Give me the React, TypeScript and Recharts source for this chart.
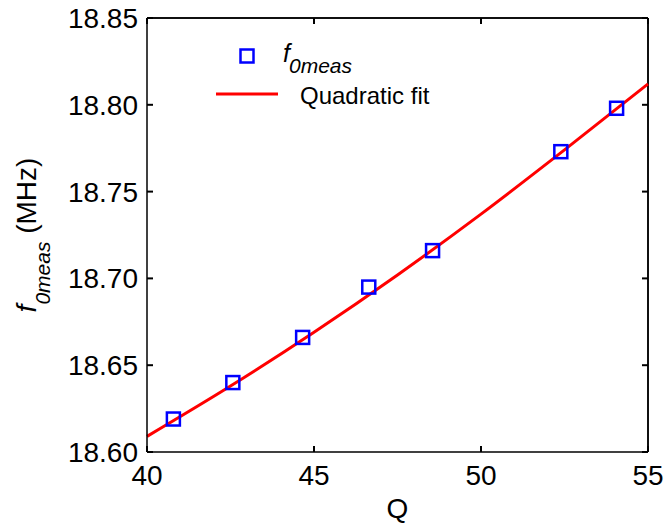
import React from "react";
import {
  ComposedChart,
  Scatter,
  Line,
  XAxis,
  YAxis,
  CartesianGrid,
  ReferenceLine,
} from "recharts";

// measured resonance frequency vs Q
const measQ = [40.79, 42.57, 44.66, 46.64, 48.55, 52.39, 54.06];
const measF = [18.619, 18.64, 18.666, 18.695, 18.716, 18.773, 18.798];

// quadratic fit
const fitQ = [40, 42.5, 45, 47.5, 50, 52.5, 55];
const fitF = [18.609, 18.638, 18.669, 18.702, 18.737, 18.774, 18.812];

const xTicks = [40, 45, 50, 55];
const yTicks = [18.6, 18.65, 18.7, 18.75, 18.8, 18.85];
const xDomain = [40, 55];
const yDomain = [18.6, 18.85];

const measData = measQ.map((q, i) => ({ q, f: measF[i] }));
const fitData = fitQ.map((q, i) => ({ q, f: fitF[i] }));

const FONT = '"Liberation Sans", Arial, sans-serif';
const BLUE = "#0000ff";
const RED = "#ff0000";
const TICK_LEN = 6;

// chart box
const W = 665;
const H = 523;
const MARGIN = { top: 18, right: 17, bottom: 0, left: 0 };
const PLOT_TOP = MARGIN.top;
const PLOT_RIGHT = W - MARGIN.right;

const SquareMarker = (props: any) => {
  const { cx, cy } = props;
  if (cx == null || cy == null) return null;
  return (
    <rect
      x={cx - 6.5}
      y={cy - 6.5}
      width={13}
      height={13}
      fill="none"
      stroke={BLUE}
      strokeWidth={2.5}
    />
  );
};

// ticks point into the plot on all four sides, matlab style
const BottomTick = (props: any) => {
  const { x, y, payload } = props;
  return (
    <g>
      <line x1={x} x2={x} y1={y} y2={y - TICK_LEN} stroke="#000" strokeWidth={2} />
      <line x1={x} x2={x} y1={PLOT_TOP} y2={PLOT_TOP + TICK_LEN} stroke="#000" strokeWidth={2} />
      <text
        x={x}
        y={y + 33}
        textAnchor="middle"
        fontFamily={FONT}
        fontSize={28}
        fill="#000"
      >
        {payload.value}
      </text>
    </g>
  );
};

const LeftTick = (props: any) => {
  const { x, y, payload } = props;
  return (
    <g>
      <line x1={x} x2={x + TICK_LEN} y1={y} y2={y} stroke="#000" strokeWidth={2} />
      <line x1={PLOT_RIGHT} x2={PLOT_RIGHT - TICK_LEN} y1={y} y2={y} stroke="#000" strokeWidth={2} />
      <text
        x={x - 9}
        y={y + 10}
        textAnchor="end"
        fontFamily={FONT}
        fontSize={28}
        fill="#000"
      >
        {Number(payload.value).toFixed(2)}
      </text>
    </g>
  );
};

const YLabel = (props: any) => {
  const vb = props.viewBox || {};
  const cx = (vb.x ?? 0) + 36;
  const cy = (vb.y ?? 0) + (vb.height ?? 0) / 2;
  return (
    <text
      x={cx}
      y={cy}
      transform={`rotate(-90, ${cx}, ${cy})`}
      textAnchor="middle"
      fontFamily={FONT}
      fontSize={28}
      fill="#000"
    >
      <tspan fontStyle="italic">f</tspan>
      <tspan fontStyle="italic" fontSize={21} dy={14}>
        0meas
      </tspan>
      <tspan dy={-14}> (MHz)</tspan>
    </text>
  );
};

// legend box drawn over the plot
function LegendBox() {
  return (
    <svg
      width={260}
      height={80}
      style={{ position: "absolute", left: 205, top: 38, overflow: "visible" }}
    >
      <rect
        x={35.5}
        y={11.5}
        width={13}
        height={13}
        fill="none"
        stroke={BLUE}
        strokeWidth={2.5}
      />
      <text
        x={78}
        y={24}
        fontFamily={FONT}
        fontSize={25}
        fontStyle="italic"
        fill="#000"
      >
        f
        <tspan fontSize={21} dx={-1} dy={11}>
          0meas
        </tspan>
      </text>
      <line x1={11} x2={73} y1={56} y2={56} stroke={RED} strokeWidth={3} />
      <text x={95} y={66} fontFamily={FONT} fontSize={24} fill="#000">
        Quadratic fit
      </text>
    </svg>
  );
}

const axisLine = { stroke: "#000", strokeWidth: 1.5 };

export default function App() {
  return (
    <div style={{ position: "absolute", left: 0, top: 0, width: W, height: H, background: "#fff" }}>
      <ComposedChart width={W} height={H} margin={MARGIN}>
        {/* only the top and right edges, to close the box */}
        <CartesianGrid
          stroke="#000"
          strokeWidth={1.5}
          horizontalCoordinatesGenerator={(p: any) => [p.offset.top]}
          verticalCoordinatesGenerator={(p: any) => [p.offset.left + p.offset.width]}
        />
        <XAxis
          dataKey="q"
          type="number"
          domain={xDomain}
          ticks={xTicks}
          height={71}
          stroke="#000"
          tick={<BottomTick />}
          tickSize={0}
          tickMargin={0}
          axisLine={axisLine}
          label={{
            value: "Q",
            position: "insideBottom",
            offset: 5,
            fontSize: 28,
            fill: "#000",
            fontFamily: FONT,
          }}
        />
        <YAxis
          dataKey="f"
          type="number"
          domain={yDomain}
          ticks={yTicks}
          width={147}
          stroke="#000"
          tick={<LeftTick />}
          tickSize={0}
          tickMargin={0}
          axisLine={axisLine}
          label={<YLabel />}
        />
        <ReferenceLine y={yDomain[1]} stroke="#000" strokeWidth={1.5} />
        <ReferenceLine x={xDomain[1]} stroke="#000" strokeWidth={1.5} />
        <Scatter
          name="f0meas"
          data={measData}
          dataKey="f"
          fill={BLUE}
          shape={SquareMarker}
          isAnimationActive={false}
        />
        <Line
          name="Quadratic fit"
          data={fitData}
          dataKey="f"
          type="monotone"
          stroke={RED}
          strokeWidth={3}
          dot={false}
          activeDot={false}
          isAnimationActive={false}
        />
      </ComposedChart>
      <LegendBox />
    </div>
  );
}
